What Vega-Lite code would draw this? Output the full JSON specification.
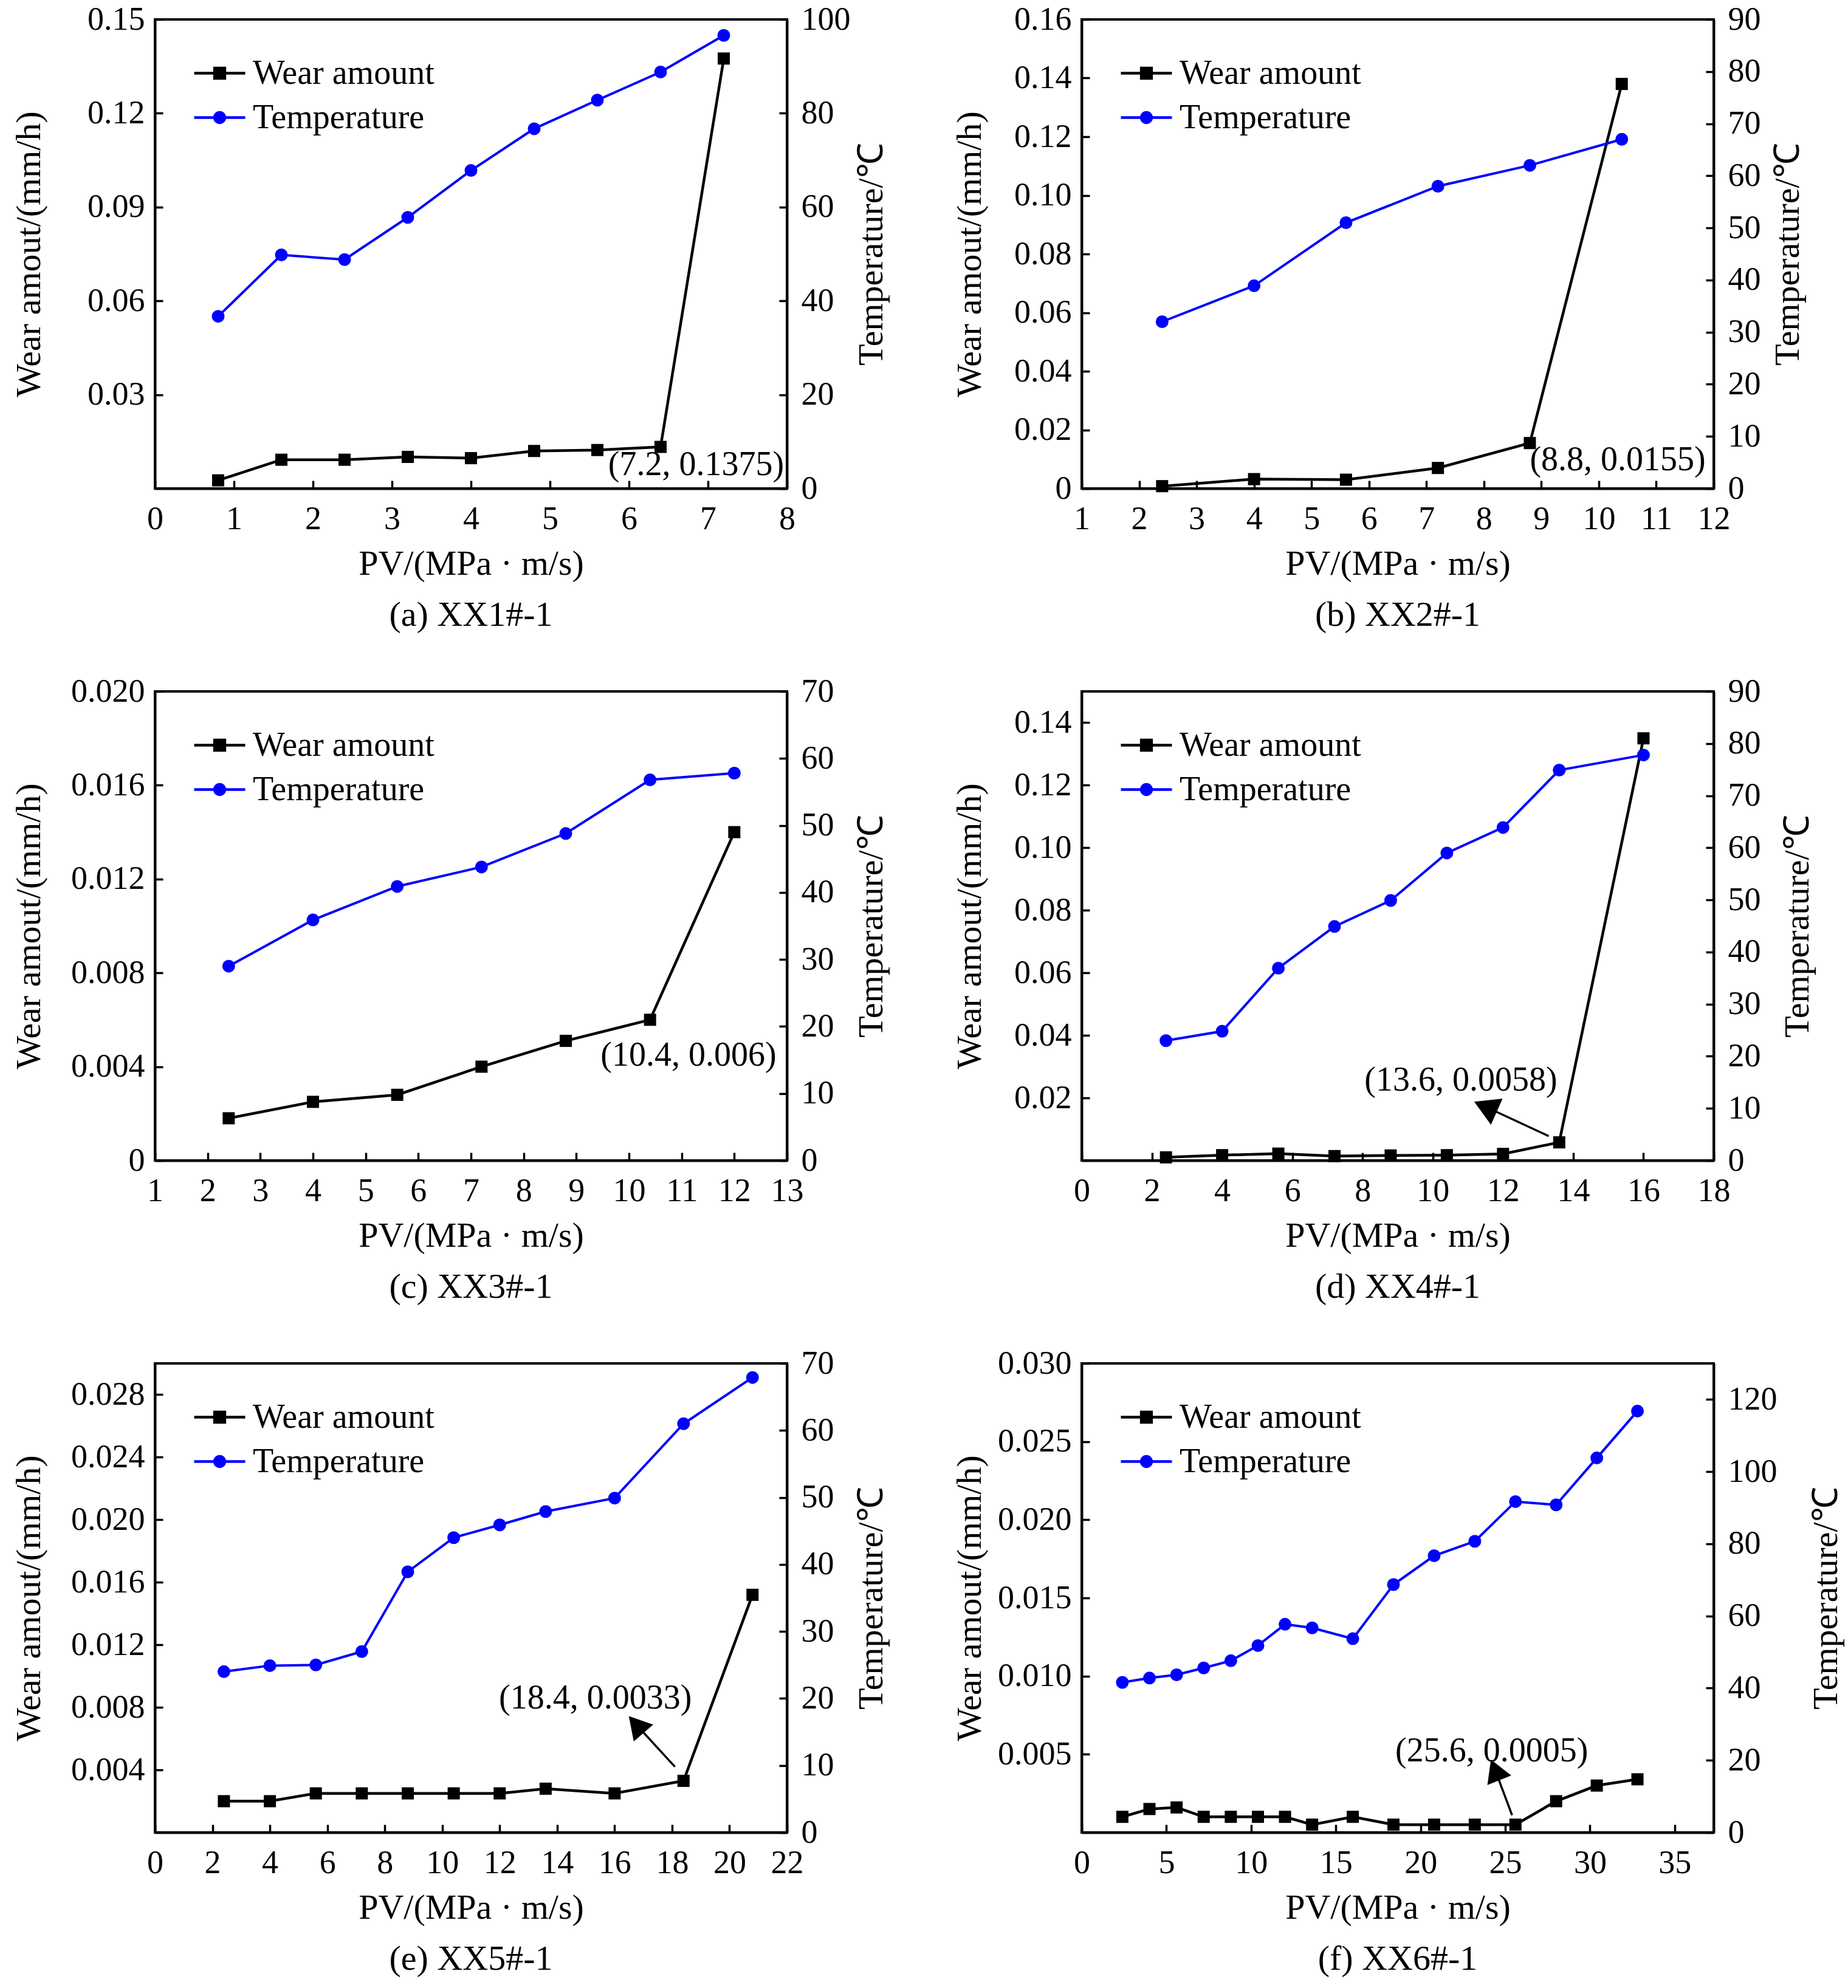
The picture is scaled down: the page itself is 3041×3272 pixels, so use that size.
{
  "$schema": "https://vega.github.io/schema/vega-lite/v6.json",
  "background": "white",
  "padding": {"left": 17, "top": 3, "right": 10, "bottom": 10},
  "datasets": {
    "pts": [
      {"panel": "a", "pv": 0.8, "wear": 0.0026, "temp": 36.7},
      {"panel": "a", "pv": 1.6, "wear": 0.0092, "temp": 49.8},
      {"panel": "a", "pv": 2.4, "wear": 0.0092, "temp": 48.8},
      {"panel": "a", "pv": 3.2, "wear": 0.0101, "temp": 57.8},
      {"panel": "a", "pv": 4.0, "wear": 0.0097, "temp": 67.8},
      {"panel": "a", "pv": 4.8, "wear": 0.0120, "temp": 76.7},
      {"panel": "a", "pv": 5.6, "wear": 0.0123, "temp": 82.8},
      {"panel": "a", "pv": 6.4, "wear": 0.0133, "temp": 88.8},
      {"panel": "a", "pv": 7.2, "wear": 0.1375, "temp": 96.6},
      {"panel": "b", "pv": 2.4, "wear": 0.0008, "temp": 32.0},
      {"panel": "b", "pv": 4.0, "wear": 0.0032, "temp": 38.9},
      {"panel": "b", "pv": 5.6, "wear": 0.0030, "temp": 51.0},
      {"panel": "b", "pv": 7.2, "wear": 0.0070, "temp": 58.0},
      {"panel": "b", "pv": 8.8, "wear": 0.0155, "temp": 62.0},
      {"panel": "b", "pv": 10.4, "wear": 0.1380, "temp": 67.0},
      {"panel": "c", "pv": 2.4, "wear": 0.0018, "temp": 29.0},
      {"panel": "c", "pv": 4.0, "wear": 0.0025, "temp": 35.9},
      {"panel": "c", "pv": 5.6, "wear": 0.0028, "temp": 40.9},
      {"panel": "c", "pv": 7.2, "wear": 0.0040, "temp": 43.8},
      {"panel": "c", "pv": 8.8, "wear": 0.0051, "temp": 48.8},
      {"panel": "c", "pv": 10.4, "wear": 0.0060, "temp": 56.8},
      {"panel": "c", "pv": 12.0, "wear": 0.0140, "temp": 57.8},
      {"panel": "d", "pv": 2.4, "wear": 0.0010, "temp": 23.0},
      {"panel": "d", "pv": 4.0, "wear": 0.0017, "temp": 24.8},
      {"panel": "d", "pv": 5.6, "wear": 0.0022, "temp": 36.9},
      {"panel": "d", "pv": 7.2, "wear": 0.0014, "temp": 44.9},
      {"panel": "d", "pv": 8.8, "wear": 0.0016, "temp": 49.9},
      {"panel": "d", "pv": 10.4, "wear": 0.0017, "temp": 59.0},
      {"panel": "d", "pv": 12.0, "wear": 0.0021, "temp": 63.9},
      {"panel": "d", "pv": 13.6, "wear": 0.0058, "temp": 74.9},
      {"panel": "d", "pv": 16.0, "wear": 0.1350, "temp": 77.8},
      {"panel": "e", "pv": 2.4, "wear": 0.0020, "temp": 24.0},
      {"panel": "e", "pv": 4.0, "wear": 0.0020, "temp": 24.9},
      {"panel": "e", "pv": 5.6, "wear": 0.0025, "temp": 25.0},
      {"panel": "e", "pv": 7.2, "wear": 0.0025, "temp": 27.0},
      {"panel": "e", "pv": 8.8, "wear": 0.0025, "temp": 38.9},
      {"panel": "e", "pv": 10.4, "wear": 0.0025, "temp": 44.0},
      {"panel": "e", "pv": 12.0, "wear": 0.0025, "temp": 45.9},
      {"panel": "e", "pv": 13.6, "wear": 0.0028, "temp": 47.9},
      {"panel": "e", "pv": 16.0, "wear": 0.0025, "temp": 49.9},
      {"panel": "e", "pv": 18.4, "wear": 0.0033, "temp": 61.0},
      {"panel": "e", "pv": 20.8, "wear": 0.0152, "temp": 67.9},
      {"panel": "f", "pv": 2.4, "wear": 0.0010, "temp": 41.6},
      {"panel": "f", "pv": 4.0, "wear": 0.0015, "temp": 42.8},
      {"panel": "f", "pv": 5.6, "wear": 0.0016, "temp": 43.7},
      {"panel": "f", "pv": 7.2, "wear": 0.0010, "temp": 45.6},
      {"panel": "f", "pv": 8.8, "wear": 0.0010, "temp": 47.6},
      {"panel": "f", "pv": 10.4, "wear": 0.0010, "temp": 51.8},
      {"panel": "f", "pv": 12.0, "wear": 0.0010, "temp": 57.7},
      {"panel": "f", "pv": 13.6, "wear": 0.0005, "temp": 56.7},
      {"panel": "f", "pv": 16.0, "wear": 0.0010, "temp": 53.7},
      {"panel": "f", "pv": 18.4, "wear": 0.0005, "temp": 68.7},
      {"panel": "f", "pv": 20.8, "wear": 0.0005, "temp": 76.7},
      {"panel": "f", "pv": 23.2, "wear": 0.0005, "temp": 80.7},
      {"panel": "f", "pv": 25.6, "wear": 0.0005, "temp": 91.7},
      {"panel": "f", "pv": 28.0, "wear": 0.0020, "temp": 90.8},
      {"panel": "f", "pv": 30.4, "wear": 0.0030, "temp": 103.8},
      {"panel": "f", "pv": 32.8, "wear": 0.0034, "temp": 116.8}
    ],
    "notes": [
      {"panel": "a", "label": "(7.2, 0.1375)", "lx": 6.85, "ly": 0.0075},
      {"panel": "b", "label": "(8.8, 0.0155)", "lx": 10.33, "ly": 0.0098},
      {"panel": "c", "label": "(10.4, 0.006)", "lx": 11.13, "ly": 0.00449},
      {"panel": "d", "label": "(13.6, 0.0058)", "lx": 10.8, "ly": 0.0257},
      {"panel": "e", "label": "(18.4, 0.0033)", "lx": 15.33, "ly": 0.0086},
      {"panel": "f", "label": "(25.6, 0.0005)", "lx": 24.2, "ly": 0.0052}
    ],
    "arrows": [
      {"panel": "d", "tx": 13.3, "ty": 0.0078, "hx": 11.5, "hy": 0.0172},
      {"panel": "e", "tx": 18.1, "ty": 0.0042, "hx": 16.75, "hy": 0.0069},
      {"panel": "f", "tx": 25.4, "ty": 0.0011, "hx": 24.4, "hy": 0.0040}
    ]
  },
  "columns": 2,
  "spacing": {"row": 334, "column": 485},
  "bounds": "flush",
  "resolve": {"scale": {"color": "independent"}},
  "concat": [
    {
      "width": 1040, "height": 772,
      "title": "(a) XX1#-1",
      "layer": [
        {
          "layer": [
            {
              "data": {"name": "pts"},
              "transform": [{"filter": "datum.panel == 'a'"}],
              "encoding": {
                "x": {"field": "pv", "type": "quantitative", "scale": {"domain": [0, 8], "nice": false, "zero": false}, "axis": {"values": [0, 1, 2, 3, 4, 5, 6, 7, 8], "title": "PV/(MPa · m/s)"}},
                "y": {"field": "wear", "type": "quantitative", "scale": {"domain": [0, 0.15], "nice": false}, "axis": {"orient": "left", "values": [0.03, 0.06, 0.09, 0.12, 0.15], "format": ".2f", "title": "Wear amout/(mm/h)", "titleX": -207}}
              },
              "layer": [
                {"mark": {"type": "line", "color": "black", "strokeWidth": 4.5},
                 "encoding": {"color": {"datum": "Wear amount", "scale": {"domain": ["Wear amount", "Temperature"], "range": ["black", "blue"]},
                   "legend": {"title": null, "orient": "none", "legendX": 62, "legendY": 44, "encode": {"symbols": {"update": {
                     "shape": {"signal": "datum.value == 'Wear amount' ? 'M-1,0H1M-0.2,-0.2H0.2V0.2H-0.2Z' : 'M-1,0H1M0.2,0A0.2,0.2,0,1,1,-0.2,0A0.2,0.2,0,1,1,0.2,0Z'"},
                     "fill": {"signal": "datum.value == 'Wear amount' ? 'black' : 'blue'"},
                     "stroke": {"signal": "datum.value == 'Wear amount' ? 'black' : 'blue'"},
                     "strokeWidth": {"value": 4.5}, "opacity": {"value": 1}}}}}}}},
                {"mark": {"type": "point", "shape": "square", "filled": true, "size": 400, "color": "black", "opacity": 1}, "encoding": {}}
              ]
            },
            {
              "data": {"name": "notes"},
              "transform": [{"filter": "datum.panel == 'a'"}],
              "mark": {"type": "text", "fontSize": 56, "color": "black"},
              "encoding": {
                "x": {"field": "lx", "type": "quantitative", "axis": {"values": [0, 1, 2, 3, 4, 5, 6, 7, 8], "title": "PV/(MPa · m/s)"}},
                "y": {"field": "ly", "type": "quantitative", "axis": {"orient": "left", "values": [0.03, 0.06, 0.09, 0.12, 0.15], "format": ".2f", "title": "Wear amout/(mm/h)", "titleX": -207}},
                "text": {"field": "label"}
              }
            }
          ]
        },
        {
          "data": {"name": "pts"},
          "transform": [{"filter": "datum.panel == 'a'"}],
          "encoding": {
            "x": {"field": "pv", "type": "quantitative", "axis": {"values": [0, 1, 2, 3, 4, 5, 6, 7, 8], "title": "PV/(MPa · m/s)"}},
            "y": {"field": "temp", "type": "quantitative", "scale": {"domain": [0, 100], "nice": false}, "axis": {"orient": "right", "values": [0, 20, 40, 60, 80, 100], "title": "Temperature/℃", "titleX": 139}}
          },
          "layer": [
            {"mark": {"type": "line", "color": "blue", "strokeWidth": 4}, "encoding": {}},
            {"mark": {"type": "point", "shape": "circle", "filled": true, "size": 441, "color": "blue", "opacity": 1}, "encoding": {}}
          ]
        }
      ],
      "resolve": {"scale": {"y": "independent"}}
    },
    {
      "width": 1040, "height": 772,
      "title": "(b) XX2#-1",
      "layer": [
        {
          "layer": [
            {
              "data": {"name": "pts"},
              "transform": [{"filter": "datum.panel == 'b'"}],
              "encoding": {
                "x": {"field": "pv", "type": "quantitative", "scale": {"domain": [1, 12], "nice": false, "zero": false}, "axis": {"values": [1, 2, 3, 4, 5, 6, 7, 8, 9, 10, 11, 12], "title": "PV/(MPa · m/s)"}},
                "y": {"field": "wear", "type": "quantitative", "scale": {"domain": [0, 0.16], "nice": false}, "axis": {"orient": "left", "values": [0, 0.02, 0.04, 0.06, 0.08, 0.1, 0.12, 0.14, 0.16], "labelExpr": "datum.value == 0 ? '0' : format(datum.value, '.2f')", "title": "Wear amout/(mm/h)", "titleX": -184}}
              },
              "layer": [
                {"mark": {"type": "line", "color": "black", "strokeWidth": 4.5},
                 "encoding": {"color": {"datum": "Wear amount", "scale": {"domain": ["Wear amount", "Temperature"], "range": ["black", "blue"]},
                   "legend": {"title": null, "orient": "none", "legendX": 62, "legendY": 44, "encode": {"symbols": {"update": {
                     "shape": {"signal": "datum.value == 'Wear amount' ? 'M-1,0H1M-0.2,-0.2H0.2V0.2H-0.2Z' : 'M-1,0H1M0.2,0A0.2,0.2,0,1,1,-0.2,0A0.2,0.2,0,1,1,0.2,0Z'"},
                     "fill": {"signal": "datum.value == 'Wear amount' ? 'black' : 'blue'"},
                     "stroke": {"signal": "datum.value == 'Wear amount' ? 'black' : 'blue'"},
                     "strokeWidth": {"value": 4.5}, "opacity": {"value": 1}}}}}}}},
                {"mark": {"type": "point", "shape": "square", "filled": true, "size": 400, "color": "black", "opacity": 1}, "encoding": {}}
              ]
            },
            {
              "data": {"name": "notes"},
              "transform": [{"filter": "datum.panel == 'b'"}],
              "mark": {"type": "text", "fontSize": 56, "color": "black"},
              "encoding": {
                "x": {"field": "lx", "type": "quantitative", "axis": {"values": [1, 2, 3, 4, 5, 6, 7, 8, 9, 10, 11, 12], "title": "PV/(MPa · m/s)"}},
                "y": {"field": "ly", "type": "quantitative", "axis": {"orient": "left", "values": [0, 0.02, 0.04, 0.06, 0.08, 0.1, 0.12, 0.14, 0.16], "labelExpr": "datum.value == 0 ? '0' : format(datum.value, '.2f')", "title": "Wear amout/(mm/h)", "titleX": -184}},
                "text": {"field": "label"}
              }
            }
          ]
        },
        {
          "data": {"name": "pts"},
          "transform": [{"filter": "datum.panel == 'b'"}],
          "encoding": {
            "x": {"field": "pv", "type": "quantitative", "axis": {"values": [1, 2, 3, 4, 5, 6, 7, 8, 9, 10, 11, 12], "title": "PV/(MPa · m/s)"}},
            "y": {"field": "temp", "type": "quantitative", "scale": {"domain": [0, 90], "nice": false}, "axis": {"orient": "right", "values": [0, 10, 20, 30, 40, 50, 60, 70, 80, 90], "title": "Temperature/℃", "titleX": 122}}
          },
          "layer": [
            {"mark": {"type": "line", "color": "blue", "strokeWidth": 4}, "encoding": {}},
            {"mark": {"type": "point", "shape": "circle", "filled": true, "size": 441, "color": "blue", "opacity": 1}, "encoding": {}}
          ]
        }
      ],
      "resolve": {"scale": {"y": "independent"}}
    },
    {
      "width": 1040, "height": 772,
      "title": "(c) XX3#-1",
      "layer": [
        {
          "layer": [
            {
              "data": {"name": "pts"},
              "transform": [{"filter": "datum.panel == 'c'"}],
              "encoding": {
                "x": {"field": "pv", "type": "quantitative", "scale": {"domain": [1, 13], "nice": false, "zero": false}, "axis": {"values": [1, 2, 3, 4, 5, 6, 7, 8, 9, 10, 11, 12, 13], "title": "PV/(MPa · m/s)"}},
                "y": {"field": "wear", "type": "quantitative", "scale": {"domain": [0, 0.02], "nice": false}, "axis": {"orient": "left", "values": [0, 0.004, 0.008, 0.012, 0.016, 0.02], "labelExpr": "datum.value == 0 ? '0' : format(datum.value, '.3f')", "title": "Wear amout/(mm/h)", "titleX": -207}}
              },
              "layer": [
                {"mark": {"type": "line", "color": "black", "strokeWidth": 4.5},
                 "encoding": {"color": {"datum": "Wear amount", "scale": {"domain": ["Wear amount", "Temperature"], "range": ["black", "blue"]},
                   "legend": {"title": null, "orient": "none", "legendX": 62, "legendY": 44, "encode": {"symbols": {"update": {
                     "shape": {"signal": "datum.value == 'Wear amount' ? 'M-1,0H1M-0.2,-0.2H0.2V0.2H-0.2Z' : 'M-1,0H1M0.2,0A0.2,0.2,0,1,1,-0.2,0A0.2,0.2,0,1,1,0.2,0Z'"},
                     "fill": {"signal": "datum.value == 'Wear amount' ? 'black' : 'blue'"},
                     "stroke": {"signal": "datum.value == 'Wear amount' ? 'black' : 'blue'"},
                     "strokeWidth": {"value": 4.5}, "opacity": {"value": 1}}}}}}}},
                {"mark": {"type": "point", "shape": "square", "filled": true, "size": 400, "color": "black", "opacity": 1}, "encoding": {}}
              ]
            },
            {
              "data": {"name": "notes"},
              "transform": [{"filter": "datum.panel == 'c'"}],
              "mark": {"type": "text", "fontSize": 56, "color": "black"},
              "encoding": {
                "x": {"field": "lx", "type": "quantitative", "axis": {"values": [1, 2, 3, 4, 5, 6, 7, 8, 9, 10, 11, 12, 13], "title": "PV/(MPa · m/s)"}},
                "y": {"field": "ly", "type": "quantitative", "axis": {"orient": "left", "values": [0, 0.004, 0.008, 0.012, 0.016, 0.02], "labelExpr": "datum.value == 0 ? '0' : format(datum.value, '.3f')", "title": "Wear amout/(mm/h)", "titleX": -207}},
                "text": {"field": "label"}
              }
            }
          ]
        },
        {
          "data": {"name": "pts"},
          "transform": [{"filter": "datum.panel == 'c'"}],
          "encoding": {
            "x": {"field": "pv", "type": "quantitative", "axis": {"values": [1, 2, 3, 4, 5, 6, 7, 8, 9, 10, 11, 12, 13], "title": "PV/(MPa · m/s)"}},
            "y": {"field": "temp", "type": "quantitative", "scale": {"domain": [0, 70], "nice": false}, "axis": {"orient": "right", "values": [0, 10, 20, 30, 40, 50, 60, 70], "title": "Temperature/℃", "titleX": 139}}
          },
          "layer": [
            {"mark": {"type": "line", "color": "blue", "strokeWidth": 4}, "encoding": {}},
            {"mark": {"type": "point", "shape": "circle", "filled": true, "size": 441, "color": "blue", "opacity": 1}, "encoding": {}}
          ]
        }
      ],
      "resolve": {"scale": {"y": "independent"}}
    },
    {
      "width": 1040, "height": 772,
      "title": "(d) XX4#-1",
      "layer": [
        {
          "layer": [
            {
              "data": {"name": "pts"},
              "transform": [{"filter": "datum.panel == 'd'"}],
              "encoding": {
                "x": {"field": "pv", "type": "quantitative", "scale": {"domain": [0, 18], "nice": false, "zero": false}, "axis": {"values": [0, 2, 4, 6, 8, 10, 12, 14, 16, 18], "title": "PV/(MPa · m/s)"}},
                "y": {"field": "wear", "type": "quantitative", "scale": {"domain": [0, 0.15], "nice": false}, "axis": {"orient": "left", "values": [0.02, 0.04, 0.06, 0.08, 0.1, 0.12, 0.14], "format": ".2f", "title": "Wear amout/(mm/h)", "titleX": -184}}
              },
              "layer": [
                {"mark": {"type": "line", "color": "black", "strokeWidth": 4.5},
                 "encoding": {"color": {"datum": "Wear amount", "scale": {"domain": ["Wear amount", "Temperature"], "range": ["black", "blue"]},
                   "legend": {"title": null, "orient": "none", "legendX": 62, "legendY": 44, "encode": {"symbols": {"update": {
                     "shape": {"signal": "datum.value == 'Wear amount' ? 'M-1,0H1M-0.2,-0.2H0.2V0.2H-0.2Z' : 'M-1,0H1M0.2,0A0.2,0.2,0,1,1,-0.2,0A0.2,0.2,0,1,1,0.2,0Z'"},
                     "fill": {"signal": "datum.value == 'Wear amount' ? 'black' : 'blue'"},
                     "stroke": {"signal": "datum.value == 'Wear amount' ? 'black' : 'blue'"},
                     "strokeWidth": {"value": 4.5}, "opacity": {"value": 1}}}}}}}},
                {"mark": {"type": "point", "shape": "square", "filled": true, "size": 400, "color": "black", "opacity": 1}, "encoding": {}}
              ]
            },
            {
              "data": {"name": "notes"},
              "transform": [{"filter": "datum.panel == 'd'"}],
              "mark": {"type": "text", "fontSize": 56, "color": "black"},
              "encoding": {
                "x": {"field": "lx", "type": "quantitative", "axis": {"values": [0, 2, 4, 6, 8, 10, 12, 14, 16, 18], "title": "PV/(MPa · m/s)"}},
                "y": {"field": "ly", "type": "quantitative", "axis": {"orient": "left", "values": [0.02, 0.04, 0.06, 0.08, 0.1, 0.12, 0.14], "format": ".2f", "title": "Wear amout/(mm/h)", "titleX": -184}},
                "text": {"field": "label"}
              }
            },
            {
              "data": {"name": "arrows"},
              "transform": [{"filter": "datum.panel == 'd'"}],
              "encoding": {
                "x": {"field": "hx", "type": "quantitative", "axis": {"values": [0, 2, 4, 6, 8, 10, 12, 14, 16, 18], "title": "PV/(MPa · m/s)"}},
                "y": {"field": "hy", "type": "quantitative", "axis": {"orient": "left", "values": [0.02, 0.04, 0.06, 0.08, 0.1, 0.12, 0.14], "format": ".2f", "title": "Wear amout/(mm/h)", "titleX": -184}}
              },
              "layer": [
                {"mark": {"type": "rule", "color": "black", "strokeWidth": 3.5}, "encoding": {"x2": {"field": "tx"}, "y2": {"field": "ty"}}},
                {"mark": {"type": "point", "shape": "triangle-up", "filled": true, "size": 2200, "color": "black", "opacity": 1, "angle": 294}, "encoding": {}}
              ]
            }
          ]
        },
        {
          "data": {"name": "pts"},
          "transform": [{"filter": "datum.panel == 'd'"}],
          "encoding": {
            "x": {"field": "pv", "type": "quantitative", "axis": {"values": [0, 2, 4, 6, 8, 10, 12, 14, 16, 18], "title": "PV/(MPa · m/s)"}},
            "y": {"field": "temp", "type": "quantitative", "scale": {"domain": [0, 90], "nice": false}, "axis": {"orient": "right", "values": [0, 10, 20, 30, 40, 50, 60, 70, 80, 90], "title": "Temperature/℃", "titleX": 138}}
          },
          "layer": [
            {"mark": {"type": "line", "color": "blue", "strokeWidth": 4}, "encoding": {}},
            {"mark": {"type": "point", "shape": "circle", "filled": true, "size": 441, "color": "blue", "opacity": 1}, "encoding": {}}
          ]
        }
      ],
      "resolve": {"scale": {"y": "independent"}}
    },
    {
      "width": 1040, "height": 772,
      "title": "(e) XX5#-1",
      "layer": [
        {
          "layer": [
            {
              "data": {"name": "pts"},
              "transform": [{"filter": "datum.panel == 'e'"}],
              "encoding": {
                "x": {"field": "pv", "type": "quantitative", "scale": {"domain": [0, 22], "nice": false, "zero": false}, "axis": {"values": [0, 2, 4, 6, 8, 10, 12, 14, 16, 18, 20, 22], "title": "PV/(MPa · m/s)"}},
                "y": {"field": "wear", "type": "quantitative", "scale": {"domain": [0, 0.03], "nice": false}, "axis": {"orient": "left", "values": [0.004, 0.008, 0.012, 0.016, 0.02, 0.024, 0.028], "format": ".3f", "title": "Wear amout/(mm/h)", "titleX": -207}}
              },
              "layer": [
                {"mark": {"type": "line", "color": "black", "strokeWidth": 4.5},
                 "encoding": {"color": {"datum": "Wear amount", "scale": {"domain": ["Wear amount", "Temperature"], "range": ["black", "blue"]},
                   "legend": {"title": null, "orient": "none", "legendX": 62, "legendY": 44, "encode": {"symbols": {"update": {
                     "shape": {"signal": "datum.value == 'Wear amount' ? 'M-1,0H1M-0.2,-0.2H0.2V0.2H-0.2Z' : 'M-1,0H1M0.2,0A0.2,0.2,0,1,1,-0.2,0A0.2,0.2,0,1,1,0.2,0Z'"},
                     "fill": {"signal": "datum.value == 'Wear amount' ? 'black' : 'blue'"},
                     "stroke": {"signal": "datum.value == 'Wear amount' ? 'black' : 'blue'"},
                     "strokeWidth": {"value": 4.5}, "opacity": {"value": 1}}}}}}}},
                {"mark": {"type": "point", "shape": "square", "filled": true, "size": 400, "color": "black", "opacity": 1}, "encoding": {}}
              ]
            },
            {
              "data": {"name": "notes"},
              "transform": [{"filter": "datum.panel == 'e'"}],
              "mark": {"type": "text", "fontSize": 56, "color": "black"},
              "encoding": {
                "x": {"field": "lx", "type": "quantitative", "axis": {"values": [0, 2, 4, 6, 8, 10, 12, 14, 16, 18, 20, 22], "title": "PV/(MPa · m/s)"}},
                "y": {"field": "ly", "type": "quantitative", "axis": {"orient": "left", "values": [0.004, 0.008, 0.012, 0.016, 0.02, 0.024, 0.028], "format": ".3f", "title": "Wear amout/(mm/h)", "titleX": -207}},
                "text": {"field": "label"}
              }
            },
            {
              "data": {"name": "arrows"},
              "transform": [{"filter": "datum.panel == 'e'"}],
              "encoding": {
                "x": {"field": "hx", "type": "quantitative", "axis": {"values": [0, 2, 4, 6, 8, 10, 12, 14, 16, 18, 20, 22], "title": "PV/(MPa · m/s)"}},
                "y": {"field": "hy", "type": "quantitative", "axis": {"orient": "left", "values": [0.004, 0.008, 0.012, 0.016, 0.02, 0.024, 0.028], "format": ".3f", "title": "Wear amout/(mm/h)", "titleX": -207}}
              },
              "layer": [
                {"mark": {"type": "rule", "color": "black", "strokeWidth": 3.5}, "encoding": {"x2": {"field": "tx"}, "y2": {"field": "ty"}}},
                {"mark": {"type": "point", "shape": "triangle-up", "filled": true, "size": 1800, "color": "black", "opacity": 1, "angle": 319}, "encoding": {}}
              ]
            }
          ]
        },
        {
          "data": {"name": "pts"},
          "transform": [{"filter": "datum.panel == 'e'"}],
          "encoding": {
            "x": {"field": "pv", "type": "quantitative", "axis": {"values": [0, 2, 4, 6, 8, 10, 12, 14, 16, 18, 20, 22], "title": "PV/(MPa · m/s)"}},
            "y": {"field": "temp", "type": "quantitative", "scale": {"domain": [0, 70], "nice": false}, "axis": {"orient": "right", "values": [0, 10, 20, 30, 40, 50, 60, 70], "title": "Temperature/℃", "titleX": 139}}
          },
          "layer": [
            {"mark": {"type": "line", "color": "blue", "strokeWidth": 4}, "encoding": {}},
            {"mark": {"type": "point", "shape": "circle", "filled": true, "size": 441, "color": "blue", "opacity": 1}, "encoding": {}}
          ]
        }
      ],
      "resolve": {"scale": {"y": "independent"}}
    },
    {
      "width": 1040, "height": 772,
      "title": "(f) XX6#-1",
      "layer": [
        {
          "layer": [
            {
              "data": {"name": "pts"},
              "transform": [{"filter": "datum.panel == 'f'"}],
              "encoding": {
                "x": {"field": "pv", "type": "quantitative", "scale": {"domain": [0, 37.3], "nice": false, "zero": false}, "axis": {"values": [0, 5, 10, 15, 20, 25, 30, 35], "title": "PV/(MPa · m/s)"}},
                "y": {"field": "wear", "type": "quantitative", "scale": {"domain": [0, 0.03], "nice": false}, "axis": {"orient": "left", "values": [0.005, 0.01, 0.015, 0.02, 0.025, 0.03], "format": ".3f", "title": "Wear amout/(mm/h)", "titleX": -184}}
              },
              "layer": [
                {"mark": {"type": "line", "color": "black", "strokeWidth": 4.5},
                 "encoding": {"color": {"datum": "Wear amount", "scale": {"domain": ["Wear amount", "Temperature"], "range": ["black", "blue"]},
                   "legend": {"title": null, "orient": "none", "legendX": 62, "legendY": 44, "encode": {"symbols": {"update": {
                     "shape": {"signal": "datum.value == 'Wear amount' ? 'M-1,0H1M-0.2,-0.2H0.2V0.2H-0.2Z' : 'M-1,0H1M0.2,0A0.2,0.2,0,1,1,-0.2,0A0.2,0.2,0,1,1,0.2,0Z'"},
                     "fill": {"signal": "datum.value == 'Wear amount' ? 'black' : 'blue'"},
                     "stroke": {"signal": "datum.value == 'Wear amount' ? 'black' : 'blue'"},
                     "strokeWidth": {"value": 4.5}, "opacity": {"value": 1}}}}}}}},
                {"mark": {"type": "point", "shape": "square", "filled": true, "size": 400, "color": "black", "opacity": 1}, "encoding": {}}
              ]
            },
            {
              "data": {"name": "notes"},
              "transform": [{"filter": "datum.panel == 'f'"}],
              "mark": {"type": "text", "fontSize": 56, "color": "black"},
              "encoding": {
                "x": {"field": "lx", "type": "quantitative", "axis": {"values": [0, 5, 10, 15, 20, 25, 30, 35], "title": "PV/(MPa · m/s)"}},
                "y": {"field": "ly", "type": "quantitative", "axis": {"orient": "left", "values": [0.005, 0.01, 0.015, 0.02, 0.025, 0.03], "format": ".3f", "title": "Wear amout/(mm/h)", "titleX": -184}},
                "text": {"field": "label"}
              }
            },
            {
              "data": {"name": "arrows"},
              "transform": [{"filter": "datum.panel == 'f'"}],
              "encoding": {
                "x": {"field": "hx", "type": "quantitative", "axis": {"values": [0, 5, 10, 15, 20, 25, 30, 35], "title": "PV/(MPa · m/s)"}},
                "y": {"field": "hy", "type": "quantitative", "axis": {"orient": "left", "values": [0.005, 0.01, 0.015, 0.02, 0.025, 0.03], "format": ".3f", "title": "Wear amout/(mm/h)", "titleX": -184}}
              },
              "layer": [
                {"mark": {"type": "rule", "color": "black", "strokeWidth": 3.5}, "encoding": {"x2": {"field": "tx"}, "y2": {"field": "ty"}}},
                {"mark": {"type": "point", "shape": "triangle-up", "filled": true, "size": 1800, "color": "black", "opacity": 1, "angle": 338}, "encoding": {}}
              ]
            }
          ]
        },
        {
          "data": {"name": "pts"},
          "transform": [{"filter": "datum.panel == 'f'"}],
          "encoding": {
            "x": {"field": "pv", "type": "quantitative", "axis": {"values": [0, 5, 10, 15, 20, 25, 30, 35], "title": "PV/(MPa · m/s)"}},
            "y": {"field": "temp", "type": "quantitative", "scale": {"domain": [0, 130], "nice": false}, "axis": {"orient": "right", "values": [0, 20, 40, 60, 80, 100, 120], "title": "Temperature/℃", "titleX": 185}}
          },
          "layer": [
            {"mark": {"type": "line", "color": "blue", "strokeWidth": 4}, "encoding": {}},
            {"mark": {"type": "point", "shape": "circle", "filled": true, "size": 441, "color": "blue", "opacity": 1}, "encoding": {}}
          ]
        }
      ],
      "resolve": {"scale": {"y": "independent"}}
    }
  ],
  "config": {
    "font": "Liberation Serif",
    "view": {"stroke": "black", "strokeWidth": 4},
    "axis": {
      "grid": false, "domainColor": "black", "domainWidth": 4,
      "tickColor": "black", "tickWidth": 3.5, "tickSize": -13,
      "labelFont": "Liberation Serif", "labelFontSize": 54, "labelColor": "black", "labelPadding": 36, "labelFlush": false,
      "titleFont": "Liberation Serif", "titleFontSize": 58, "titleFontWeight": "normal", "titleColor": "black"
    },
    "axisX": {"titlePadding": 18},
    "axisLeft": {"labelPadding": 30, "titleY": 386, "titleBaseline": "middle", "titleAngle": 270},
    "axisRight": {"titleY": 386, "titleAngle": 270, "titleBaseline": "middle"},
    "legend": {
      "padding": 0,
      "labelFont": "Liberation Serif", "labelFontSize": 56, "labelColor": "black", "labelLimit": 0,
      "labelOffset": 10, "symbolSize": 7056, "rowPadding": -30
    },
    "title": {"font": "Liberation Serif", "fontSize": 58, "fontWeight": "normal", "color": "black", "orient": "bottom", "offset": 27},
    "text": {"font": "Liberation Serif"}
  }
}
